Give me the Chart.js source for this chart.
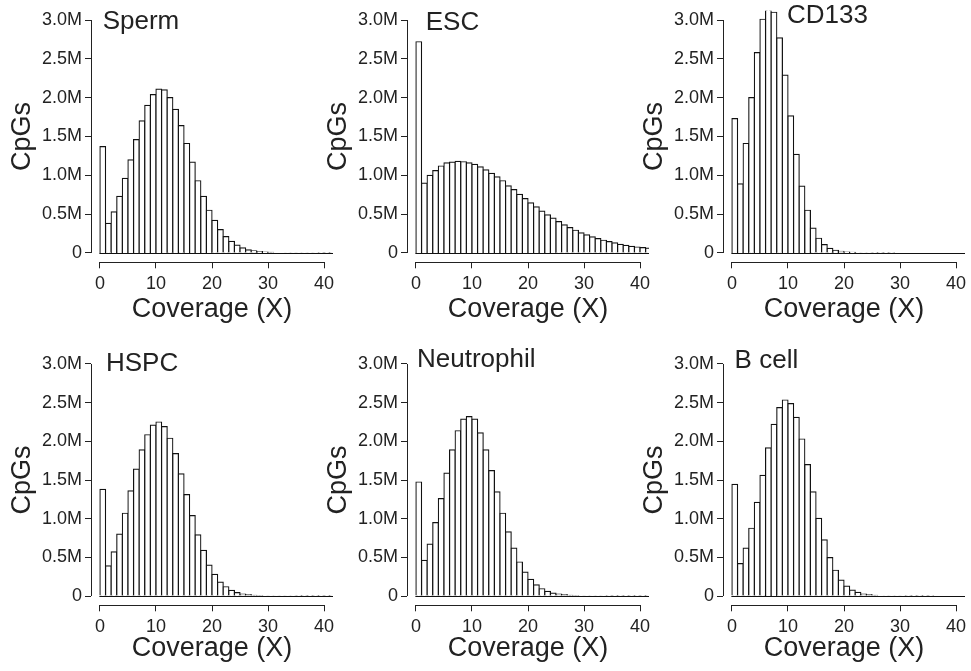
<!DOCTYPE html>
<html>
<head>
<meta charset="utf-8">
<script src="https://cdn.jsdelivr.net/npm/chart.js@4/dist/chart.umd.min.js"></script>
<style>
  body { margin: 0; background: #fff; }
  #wrap { position: relative; width: 971px; height: 671px; overflow: hidden; }
  #wrap canvas { position: absolute; }
</style>
</head>
<body>
<div id="wrap"></div>
<script>
// coverage bins (bin i covers i..i+1 reads)
const coverageBins = [0, 1, 2, 3, 4, 5, 6, 7, 8, 9, 10, 11, 12, 13, 14, 15, 16, 17, 18, 19, 20,
  21, 22, 23, 24, 25, 26, 27, 28, 29, 30, 31, 32, 33, 34, 35, 36, 37, 38, 39, 40, 41];
const xTickValues = [0, 10, 20, 30, 40];
const yTickValues = [0, 0.5, 1.0, 1.5, 2.0, 2.5, 3.0];

const panelNames = ["Sperm", "ESC", "CD133", "HSPC", "Neutrophil", "B cell"];

// CpGs per bin, in millions
const spermCpGs = [1.37, 0.38, 0.53, 0.73, 0.96, 1.2, 1.46, 1.7, 1.9, 2.04, 2.11, 2.1, 2.0, 1.85,
  1.64, 1.41, 1.17, 0.93, 0.73, 0.55, 0.42, 0.3, 0.21, 0.15, 0.1, 0.065, 0.04, 0.026, 0.017, 0.011,
  0.008, 0.006, 0.005, 0.004, 0.003, 0.003, 0.002, 0.002, 0.002, 0.001, 0.001, 0.001];
const escCpGs = [2.72, 0.9, 1.0, 1.06, 1.12, 1.16, 1.17, 1.18, 1.175, 1.16, 1.14, 1.11, 1.07, 1.025,
  0.98, 0.93, 0.865, 0.815, 0.755, 0.7, 0.645, 0.595, 0.54, 0.49, 0.448, 0.405, 0.362, 0.327, 0.293,
  0.258, 0.232, 0.207, 0.185, 0.164, 0.146, 0.129, 0.112, 0.099, 0.086, 0.077, 0.069, 0.062];
const cd133CpGs = [1.73, 0.89, 1.41, 2.0, 2.58, 3.01, 3.2, 3.1, 2.77, 2.29, 1.765, 1.27, 0.86, 0.55,
  0.32, 0.19, 0.108, 0.06, 0.034, 0.02, 0.012, 0.007, 0.004, 0.003, 0.002, 0.001, 0.001, 0.001, 0.001,
  0, 0, 0, 0, 0, 0, 0, 0, 0, 0, 0, 0, 0];
const hspcCpGs = [1.38, 0.39, 0.57, 0.8, 1.07, 1.36, 1.64, 1.89, 2.085, 2.21, 2.25, 2.19, 2.04, 1.84,
  1.58, 1.31, 1.04, 0.79, 0.59, 0.4, 0.28, 0.18, 0.12, 0.073, 0.043, 0.026, 0.017, 0.01, 0.007, 0.005,
  0.004, 0.003, 0.002, 0.002, 0.002, 0.001, 0.001, 0.001, 0.001, 0.001, 0.001, 0.001];
const neutrophilCpGs = [1.474, 0.46, 0.67, 0.95, 1.26, 1.59, 1.89, 2.137, 2.286, 2.32, 2.286, 2.11,
  1.89, 1.62, 1.346, 1.07, 0.83, 0.62, 0.44, 0.31, 0.214, 0.145, 0.094, 0.06, 0.038, 0.026, 0.017,
  0.01, 0.007, 0.005, 0.004, 0.003, 0.002, 0.002, 0.001, 0.001, 0.001, 0.001, 0.001, 0.001, 0.001, 0.001];
const bcellCpGs = [1.444, 0.42, 0.62, 0.876, 1.21, 1.56, 1.915, 2.22, 2.436, 2.534, 2.487, 2.31, 2.03,
  1.7, 1.346, 1.004, 0.726, 0.496, 0.333, 0.205, 0.128, 0.077, 0.047, 0.026, 0.017, 0.009, 0.006,
  0.004, 0.003, 0.002, 0.002, 0.001, 0.001, 0.001, 0.001, 0.001, 0, 0, 0, 0, 0, 0];

const panelValues = [spermCpGs, escCpGs, cd133CpGs, hspcCpGs, neutrophilCpGs, bcellCpGs];

// page layout (canvas placement, label placement) kept apart from the data
const FONT = "'Liberation Sans', Arial, Helvetica, sans-serif";
const INK = "#222";
const BAR_LINE = "#111";
const canvasW = 337, canvasH = 327;
const colLeft = [0, 316.3, 631.7];
const rowTop = [0, 344];
const rowAxisHeight = [64.7, 65.7];
const rowTitlePad = [1.3, 5.8];
const titlePos = [[102.7, 22.3], [109.7, 22.8], [155, 16.3], [106, 19.8], [101, 15.7], [102.6, 16.5]];

// draws R-style axis lines, the bar baseline and the panel name
const axisLines = {
  id: "axisLines",
  afterDatasetsDraw(chart, args, opts) {
    const { ctx, chartArea: area, scales: { x, y } } = chart;
    const snap = v => Math.round(v) + 0.5;
    ctx.save();
    ctx.strokeStyle = INK;
    ctx.lineWidth = 1;
    ctx.beginPath();
    // y axis
    ctx.moveTo(snap(area.left), y.getPixelForValue(0));
    ctx.lineTo(snap(area.left), y.getPixelForValue(3));
    // x axis
    ctx.moveTo(x.getPixelForValue(0), snap(area.bottom));
    ctx.lineTo(x.getPixelForValue(40), snap(area.bottom));
    ctx.stroke();

    // baseline under bars
    ctx.strokeStyle = BAR_LINE;
    ctx.lineWidth = 1.2;
    ctx.beginPath();
    ctx.moveTo(x.getPixelForValue(0) - 0.6, snap(y.getPixelForValue(0)));
    ctx.lineTo(area.right, snap(y.getPixelForValue(0)));
    ctx.stroke();

    ctx.fillStyle = INK;
    ctx.font = "26px " + FONT;
    ctx.textAlign = "left";
    ctx.textBaseline = "middle";
    ctx.fillText(opts.text, opts.x, opts.y);
    ctx.restore();
  }
};

const wrap = document.getElementById("wrap");

panelValues.forEach((values, i) => {
  const row = Math.floor(i / 3), col = i % 3;
  const canvas = document.createElement("canvas");
  canvas.width = canvasW;
  canvas.height = canvasH;
  canvas.style.left = colLeft[col] + "px";
  canvas.style.top = rowTop[row] + "px";
  wrap.appendChild(canvas);

  const points = coverageBins.map((b, k) => ({ x: b + 0.5, y: values[k] }));

  new Chart(canvas, {
    type: "bar",
    data: {
      datasets: [{
        data: points,
        backgroundColor: "#fff",
        borderColor: BAR_LINE,
        // outline centred on the bin edges so neighbouring bars share one line
        borderWidth: { top: 1.2, right: 1.2, bottom: 0, left: 1.2 },
        inflateAmount: 0.6,
        barPercentage: 1,
        categoryPercentage: 1,
        clip: 0
      }]
    },
    options: {
      responsive: false,
      animation: false,
      devicePixelRatio: 1,
      layout: { padding: { top: 10.7, right: 4, bottom: 0, left: 0 } },
      plugins: {
        legend: { display: false },
        tooltip: { enabled: false },
        axisLines: { text: panelNames[i], x: titlePos[i][0], y: titlePos[i][1] }
      },
      scales: {
        x: {
          type: "linear",
          min: -1.6,
          max: 41.6,
          offset: false,
          afterBuildTicks: s => { s.ticks = xTickValues.map(v => ({ value: v })); },
          afterFit: s => {
            s.height = rowAxisHeight[row];
            s.paddingLeft = 0;
            s.paddingRight = 0;
          },
          border: { display: false },
          grid: { drawOnChartArea: false, drawTicks: true, tickLength: 6, color: INK, offset: false },
          ticks: {
            autoSkip: false,
            maxRotation: 0,
            padding: 5,
            color: INK,
            font: { family: FONT, size: 18 }
          },
          title: {
            display: true,
            text: "Coverage (X)",
            color: INK,
            font: { family: FONT, size: 27, lineHeight: 1.2 },
            padding: { top: 0, bottom: rowTitlePad[row] }
          }
        },
        y: {
          type: "linear",
          min: -0.12,
          max: 3.12,
          afterBuildTicks: s => { s.ticks = yTickValues.map(v => ({ value: v })); },
          afterFit: s => {
            s.width = 91;
            s.paddingTop = 0;
            s.paddingBottom = 0;
          },
          border: { display: false },
          grid: { drawOnChartArea: false, drawTicks: true, tickLength: 6, color: INK },
          ticks: {
            padding: 3,
            color: INK,
            font: { family: FONT, size: 18 },
            callback: v => (v === 0 ? "0" : v.toFixed(1) + "M")
          },
          title: {
            display: true,
            text: "CpGs",
            color: INK,
            font: { family: FONT, size: 27, lineHeight: 1.2 },
            padding: { top: 6.8, bottom: 0 }
          }
        }
      }
    },
    plugins: [axisLines]
  });
});
</script>
</body>
</html>
